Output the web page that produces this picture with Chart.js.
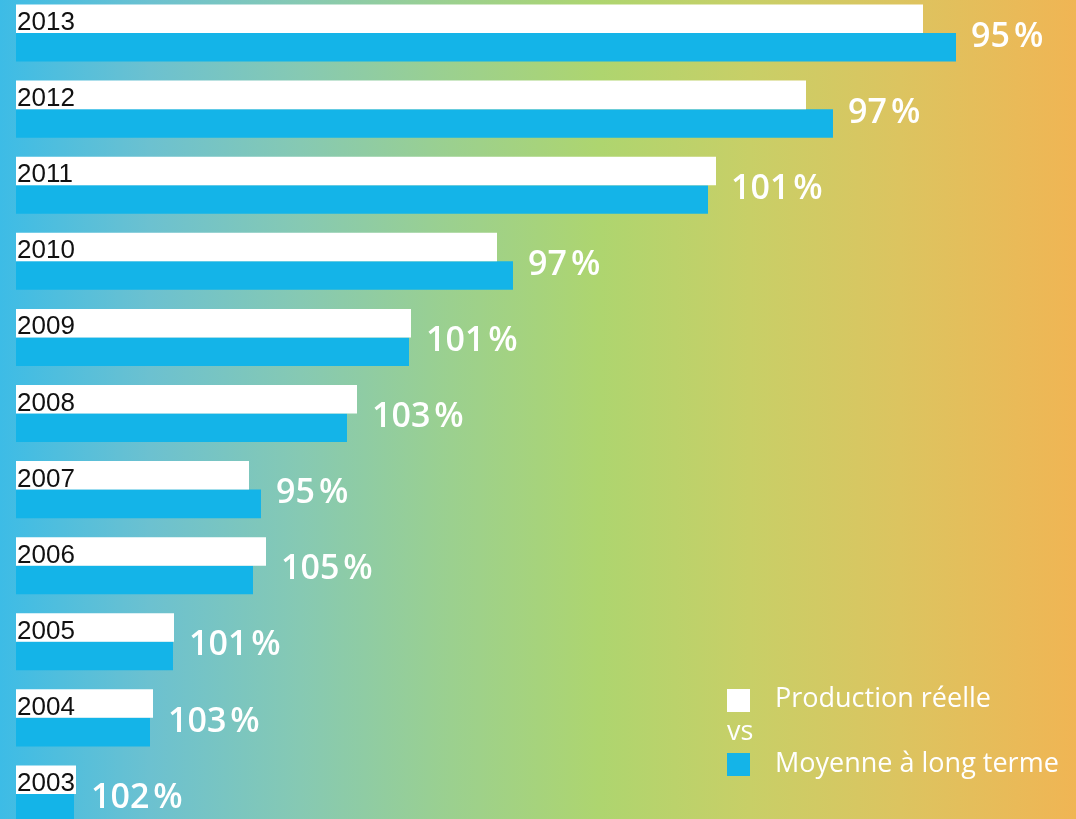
<!DOCTYPE html>
<html>
<head>
<meta charset="utf-8">
<script src="https://cdn.jsdelivr.net/npm/chart.js@4"></script>
<style>
  html, body { margin: 0; padding: 0; overflow: hidden; }
  body {
    width: 1076px; height: 819px;
    background: linear-gradient(to right, #3dbce6 0px, #6cc1d0 150px, #86c9b3 300px, #9bd08f 450px, #aed56f 600px, #c8cf67 750px, #dcc460 900px, #f0b554 1076px);
  }
  .wrap { position: absolute; left: 0; top: -5px; width: 1076px; height: 840px; }
</style>
</head>
<body>
<div class="wrap"><canvas id="chart"></canvas></div>
<script>
const years = ["2013", "2012", "2011", "2010", "2009", "2008", "2007", "2006", "2005", "2004", "2003"];
const production = [907, 790, 700, 481, 395, 341, 233, 250, 158, 137, 60];
const moyenne = [940, 817, 692, 497, 393, 331, 245, 237, 157, 134, 58];
const pourcent = [95, 97, 101, 97, 101, 103, 95, 105, 101, 103, 102];

const white = "#ffffff";
const blue = "#14b4e8";

// years written on the white bar, percentages after the longest bar
const barLabels = {
  id: "barLabels",
  afterDatasetsDraw(chart) {
    const ctx = chart.ctx;
    const m0 = chart.getDatasetMeta(0).data;
    const m1 = chart.getDatasetMeta(1).data;
    ctx.save();
    years.forEach((y, i) => {
      const a = m0[i], b = m1[i];
      const mid = (a.y + a.height / 2 + b.y - b.height / 2) / 2;
      ctx.fillStyle = "#111";
      ctx.font = "26px 'Liberation Sans', Arial, sans-serif";
      ctx.textAlign = "left";
      ctx.textBaseline = "alphabetic";
      ctx.fillText(y, chart.chartArea.left + 1, mid - 3);

      ctx.fillStyle = "#fff";
      ctx.font = "600 34px 'Open Sans', sans-serif";
      ctx.textBaseline = "middle";
      const num = String(pourcent[i]);
      const x = Math.max(a.x, b.x) + 15;
      ctx.fillText(num, x, mid + 4);
      ctx.fillText("%", x + ctx.measureText(num).width + 4, mid + 4);
    });
    ctx.restore();
  }
};

// custom legend: white square, "vs", blue square
const legendBox = {
  id: "legendBox",
  afterDraw(chart) {
    const ctx = chart.ctx;
    const off = 5; // canvas sits 5px above the page
    const ds = chart.data.datasets;
    ctx.save();
    ctx.font = "27px 'Open Sans', sans-serif";
    ctx.textBaseline = "alphabetic";
    ctx.fillStyle = ds[0].backgroundColor;
    ctx.fillRect(727, 689 + off, 23, 23);
    ctx.fillStyle = "#fff";
    ctx.fillText(ds[0].label, 775, 707 + off);
    ctx.fillText("vs", 727, 740 + off);
    ctx.fillStyle = ds[1].backgroundColor;
    ctx.fillRect(727, 753 + off, 23, 23);
    ctx.fillStyle = "#fff";
    ctx.fillText(ds[1].label, 775, 772 + off);
    ctx.restore();
  }
};

new Chart(document.getElementById("chart"), {
  type: "bar",
  data: {
    labels: years,
    datasets: [
      { label: "Production réelle", data: production, backgroundColor: white },
      { label: "Moyenne à long terme", data: moyenne, backgroundColor: blue }
    ]
  },
  options: {
    indexAxis: "y",
    responsive: true,
    maintainAspectRatio: false,
    animation: false,
    categoryPercentage: 0.75,
    barPercentage: 1,
    layout: { padding: { left: 16, right: 0, top: 0, bottom: 3 } },
    scales: {
      x: { display: false, min: 0, max: 1060 },
      y: { display: false }
    },
    plugins: {
      legend: { display: false },
      tooltip: { enabled: false }
    }
  },
  plugins: [barLabels, legendBox]
});
</script>
</body>
</html>
